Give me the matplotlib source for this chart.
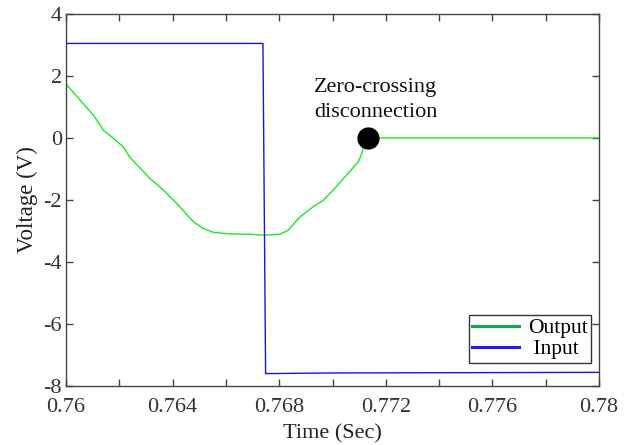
import matplotlib
matplotlib.use("Agg")
import matplotlib.pyplot as plt
from matplotlib.lines import Line2D
from matplotlib.ticker import MultipleLocator

plt.rcParams['font.family'] = ['Liberation Serif', 'DejaVu Serif']
plt.rcParams['axes.unicode_minus'] = False

# Output voltage (V) vs time (s)
out_t = [0.76000, 0.76102, 0.76115, 0.76134, 0.76140, 0.76175, 0.76215, 0.76240,
         0.76315, 0.76365, 0.76415, 0.76478, 0.76515, 0.76553, 0.76615, 0.76690,
         0.76744, 0.76803, 0.76834, 0.76878, 0.76928, 0.76966, 0.77003, 0.77053,
         0.77097, 0.77110, 0.77116, 0.77134, 0.78000]
out_v = [1.74, 0.74, 0.58, 0.34, 0.25, 0.01, -0.29, -0.63,
         -1.31, -1.68, -2.11, -2.71, -2.92, -3.05, -3.10, -3.11,
         -3.14, -3.11, -2.98, -2.55, -2.22, -2.01, -1.68, -1.20,
         -0.77, -0.50, -0.29, 0.00, 0.00]

# Input voltage (V) vs time (s)
in_t = [0.76000, 0.76739, 0.76749, 0.77000, 0.77500, 0.78000]
in_v = [3.05, 3.05, -7.61, -7.59, -7.58, -7.57]

# Disconnection point
dis_t = 0.77134
dis_v = 0.0

fig = plt.figure(figsize=(6.25, 4.45), dpi=100)
ax = fig.add_axes([0.1056, 0.1333, 0.8528, 0.8352])

ax.plot(out_t, out_v, color='#18EC18', lw=1.0, solid_joinstyle='round')
ax.plot(in_t, in_v, color='#1515E0', lw=1.0)
ax.plot([dis_t], [dis_v], 'o', color='black', markersize=15)

ax.text(0.76931, 0.67, 'Zero-crossing\ndisconnection', fontsize=16,
        ha='left', va='baseline', linespacing=1.45, color='#111111')

ax.set_xlim(0.76, 0.78)
ax.set_ylim(-8, 4)
ax.xaxis.set_minor_locator(MultipleLocator(0.002))
ax.yaxis.set_major_locator(MultipleLocator(2))

ax.set_xticks([0.76, 0.764, 0.768, 0.772, 0.776, 0.78])
ax.set_xticklabels(['0.76', '0.764', '0.768', '0.772', '0.776', '0.78'])

ax.tick_params(which='both', direction='in', top=True, right=True,
               length=5, width=1, color='#444444', labelsize=16,
               labelcolor='#333333')
ax.tick_params(axis='x', pad=9)
ax.tick_params(axis='y', pad=3)
for s in ax.spines.values():
    s.set_color('#444444')
    s.set_linewidth(1)

ax.set_xlabel('Time (Sec)', fontsize=16, color='#222222', labelpad=5)
ax.set_ylabel('Voltage (V)', fontsize=16.5, color='#222222', labelpad=4)

handles = [Line2D([], [], color='#00B050', lw=2.2),
           Line2D([], [], color='#2020E0', lw=2.2)]
leg = ax.legend(handles, ['Output', ' Input'], loc='lower right',
                bbox_to_anchor=(0.985, 0.062), fontsize=15.5, frameon=True,
                fancybox=False, edgecolor='black', handlelength=2.2,
                handletextpad=0.4, borderpad=0.15, labelspacing=0.05,
                borderaxespad=0.0)
leg.get_frame().set_linewidth(1.0)

fig.savefig('out.png', dpi=100)
